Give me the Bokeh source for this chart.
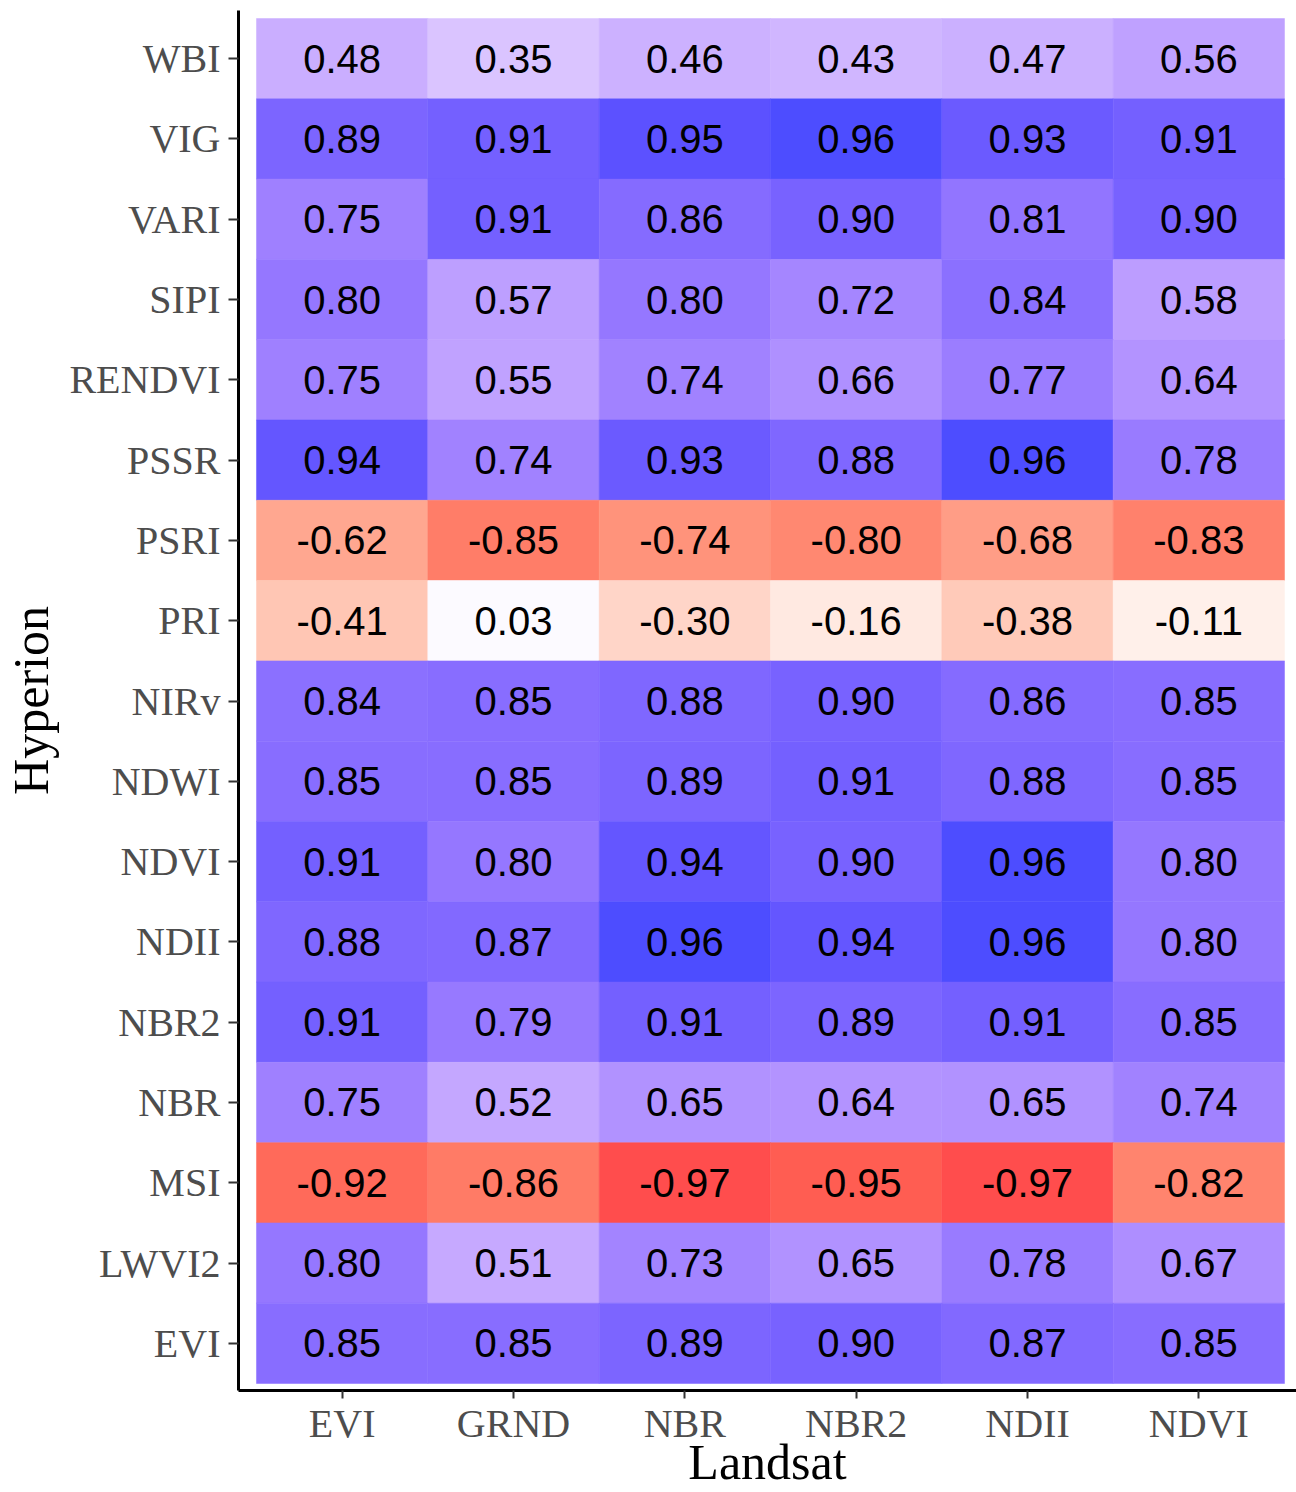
import numpy as np
from bokeh.plotting import figure
from bokeh.models import ColumnDataSource, FixedTicker
from bokeh.embed import file_html
from bokeh.resources import INLINE

# Landsat indices (columns) and Hyperion indices (rows, top to bottom)
landsat = ["EVI", "GRND", "NBR", "NBR2", "NDII", "NDVI"]
hyperion = ["WBI", "VIG", "VARI", "SIPI", "RENDVI", "PSSR", "PSRI", "PRI", "NIRv",
            "NDWI", "NDVI", "NDII", "NBR2", "NBR", "MSI", "LWVI2", "EVI"]

# correlation coefficients, one list per Hyperion index, ordered as `landsat`
r_WBI = [0.48, 0.35, 0.46, 0.43, 0.47, 0.56]
r_VIG = [0.89, 0.91, 0.95, 0.96, 0.93, 0.91]
r_VARI = [0.75, 0.91, 0.86, 0.90, 0.81, 0.90]
r_SIPI = [0.80, 0.57, 0.80, 0.72, 0.84, 0.58]
r_RENDVI = [0.75, 0.55, 0.74, 0.66, 0.77, 0.64]
r_PSSR = [0.94, 0.74, 0.93, 0.88, 0.96, 0.78]
r_PSRI = [-0.62, -0.85, -0.74, -0.80, -0.68, -0.83]
r_PRI = [-0.41, 0.03, -0.30, -0.16, -0.38, -0.11]
r_NIRv = [0.84, 0.85, 0.88, 0.90, 0.86, 0.85]
r_NDWI = [0.85, 0.85, 0.89, 0.91, 0.88, 0.85]
r_NDVI = [0.91, 0.80, 0.94, 0.90, 0.96, 0.80]
r_NDII = [0.88, 0.87, 0.96, 0.94, 0.96, 0.80]
r_NBR2 = [0.91, 0.79, 0.91, 0.89, 0.91, 0.85]
r_NBR = [0.75, 0.52, 0.65, 0.64, 0.65, 0.74]
r_MSI = [-0.92, -0.86, -0.97, -0.95, -0.97, -0.82]
r_LWVI2 = [0.80, 0.51, 0.73, 0.65, 0.78, 0.67]
r_EVI = [0.85, 0.85, 0.89, 0.90, 0.87, 0.85]

rows = [r_WBI, r_VIG, r_VARI, r_SIPI, r_RENDVI, r_PSSR, r_PSRI, r_PRI, r_NIRv,
        r_NDWI, r_NDVI, r_NDII, r_NBR2, r_NBR, r_MSI, r_LWVI2, r_EVI]

# ---- diverging red - white - blue palette interpolated in CIE Lab ----
M = np.array([[0.4124564, 0.3575761, 0.1804375],
              [0.2126729, 0.7151522, 0.0721750],
              [0.0193339, 0.1191920, 0.9503041]])
WHITE_XYZ = np.array([0.95047, 1.0, 1.08883])


def rgb_to_lab(rgb):
    c = np.asarray(rgb, float) / 255.0
    lin = np.where(c <= 0.04045, c / 12.92, ((c + 0.055) / 1.055) ** 2.4)
    xyz = M @ lin / WHITE_XYZ
    f = np.where(xyz > 0.008856, np.cbrt(xyz), 7.787 * xyz + 16 / 116)
    return np.array([116 * f[1] - 16, 500 * (f[0] - f[1]), 200 * (f[1] - f[2])])


def lab_to_rgb(lab):
    L, a, b = lab
    fy = (L + 16) / 116
    fx = fy + a / 500
    fz = fy - b / 200
    f = np.array([fx, fy, fz])
    xyz = np.where(f ** 3 > 0.008856, f ** 3, (f - 16 / 116) / 7.787) * WHITE_XYZ
    lin = np.linalg.solve(M, xyz)
    lin = np.clip(lin, 0, 1)
    c = np.where(lin <= 0.0031308, 12.92 * lin, 1.055 * lin ** (1 / 2.4) - 0.055)
    return np.clip(c, 0, 1) * 255


LOW = rgb_to_lab((255, 0, 0))
MID = rgb_to_lab((255, 255, 255))
HIGH = rgb_to_lab((0, 0, 255))
ALPHA = 0.7

all_vals = np.array(rows).ravel()
pos_extent = all_vals.max()
neg_extent = -all_vals.min()


def fill_for(v):
    if v >= 0:
        t, end = v / pos_extent, HIGH
    else:
        t, end = -v / neg_extent, LOW
    lab = MID + (end - MID) * t
    rgb = lab_to_rgb(lab)
    rgb = ALPHA * rgb + (1 - ALPHA) * 255
    r, g, b = [int(round(x)) for x in rgb]
    return "#%02x%02x%02x" % (r, g, b)


xs, ys, vals, cols, txt = [], [], [], [], []
n_rows = len(hyperion)
for i, (name, row) in enumerate(zip(hyperion, rows)):
    for j, v in enumerate(row):
        xs.append(j + 1)
        ys.append(n_rows - i)
        vals.append(v)
        cols.append(fill_for(v))
        txt.append("%.2f" % v)

src = ColumnDataSource(dict(x=xs, y=ys, v=vals, fill=cols, label=txt))

# ---- figure geometry ----
W, H = 1296, 1492
LEFT, TOP, BOTTOM = 238, 10, 102
X0, X1 = 0.395, 6.570
Y0, Y1 = 0.413, 17.600

p = figure(width=W, height=H, x_range=(X0, X1), y_range=(Y0, Y1),
           output_backend="svg", toolbar_location=None,
           min_border_left=LEFT, min_border_right=0,
           min_border_top=TOP, min_border_bottom=BOTTOM)
p.outline_line_color = None
p.xgrid.visible = False
p.ygrid.visible = False
p.background_fill_color = "white"

p.rect(x="x", y="y", width=1.0, height=1.0, source=src,
       fill_color="fill", line_color="fill", line_width=0.5)
p.text(x="x", y="y", text="label", source=src,
       text_align="center", text_baseline="middle",
       text_font={"value": "Liberation Sans"}, text_font_size="40px",
       text_color="black")

for ax in (p.xaxis[0], p.yaxis[0]):
    ax.axis_line_color = "black"
    ax.axis_line_width = 3
    ax.major_tick_line_color = "#333333"
    ax.major_tick_line_width = 2
    ax.minor_tick_line_color = None
    ax.major_tick_in = 0
    ax.major_label_text_font = "Liberation Serif"
    ax.major_label_text_font_size = "40px"
    ax.major_label_text_color = "#4d4d4d"
    ax.axis_label_text_font = "Liberation Serif"
    ax.axis_label_text_font_size = "50px"
    ax.axis_label_text_font_style = "normal"
    ax.axis_label_text_color = "black"

p.xaxis.ticker = FixedTicker(ticks=list(range(1, len(landsat) + 1)))
p.xaxis.major_label_overrides = {i + 1: n for i, n in enumerate(landsat)}
p.xaxis.major_tick_out = 8
p.xaxis.major_label_standoff = 2
p.xaxis.axis_label = "Landsat"
p.xaxis.axis_label_standoff = -15

p.yaxis.ticker = FixedTicker(ticks=list(range(1, n_rows + 1)))
p.yaxis.major_label_overrides = {n_rows - i: n for i, n in enumerate(hyperion)}
p.yaxis.major_tick_out = 10
p.yaxis.major_label_standoff = 8
p.yaxis.axis_label = "Hyperion"
p.yaxis.axis_label_standoff = 7

open("out.html", "w").write(file_html(p, INLINE))
